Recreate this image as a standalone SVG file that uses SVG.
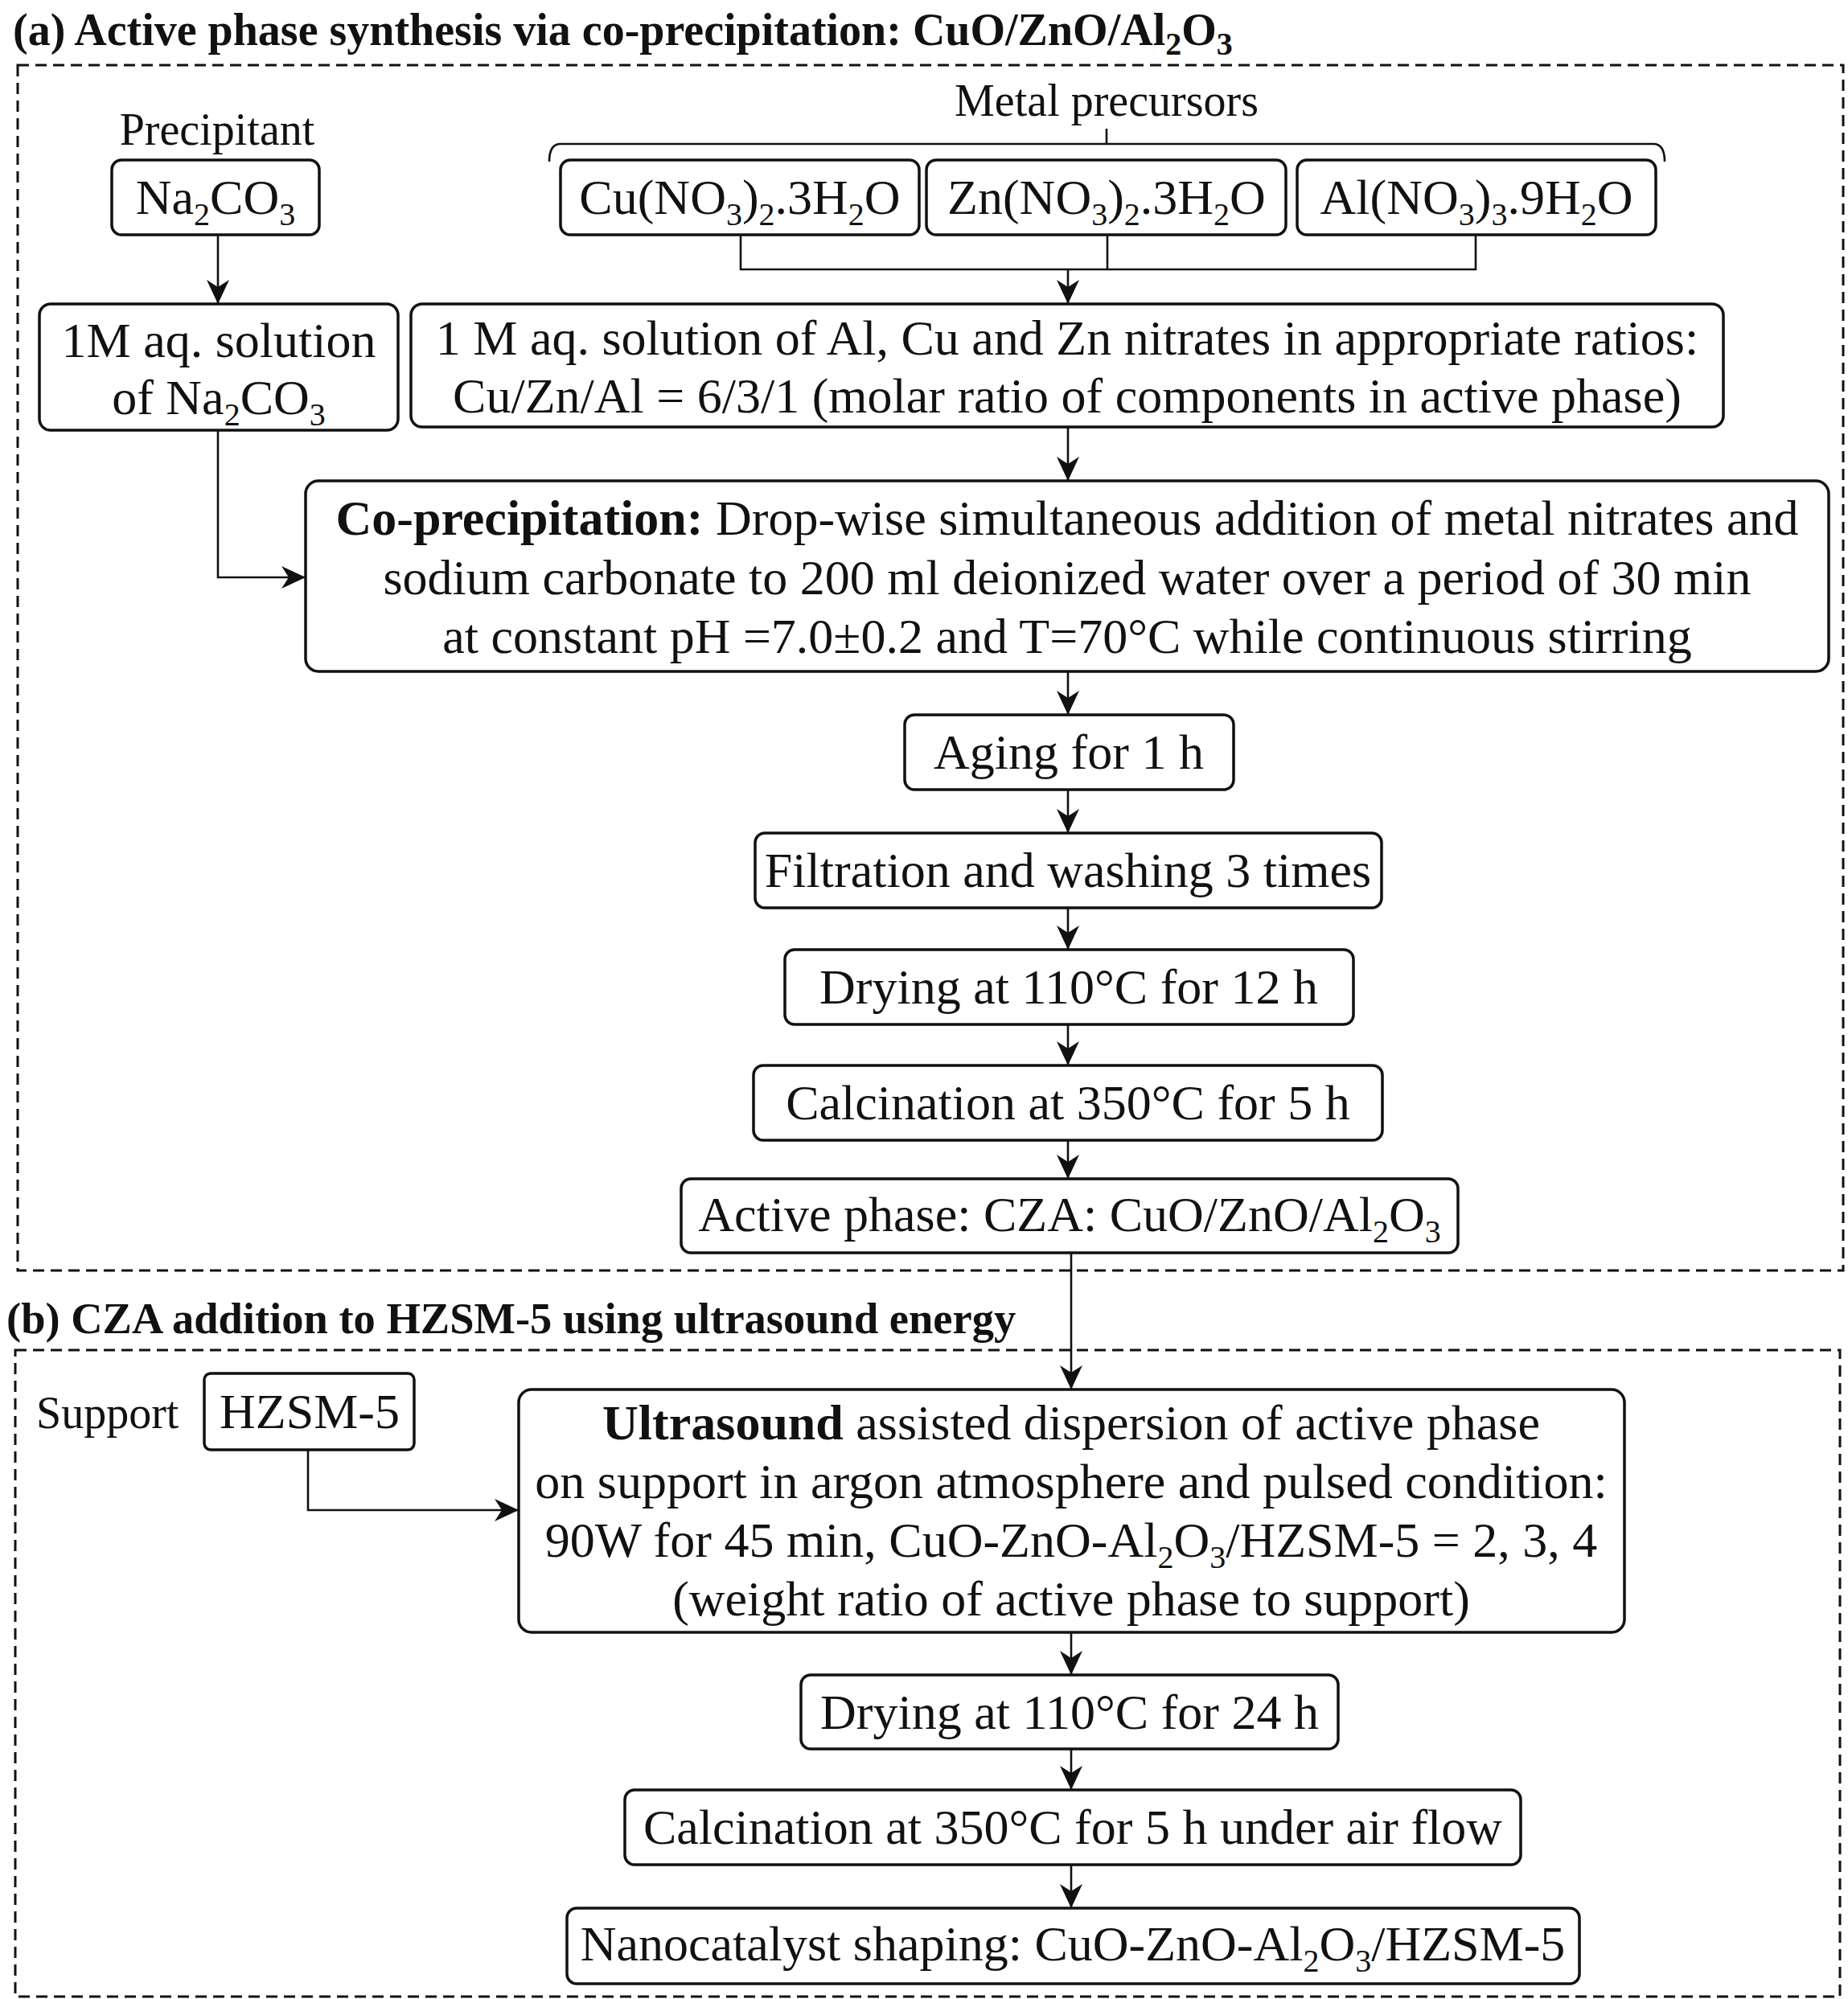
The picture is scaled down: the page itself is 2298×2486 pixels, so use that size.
<svg xmlns="http://www.w3.org/2000/svg" width="2298" height="2486" viewBox="0 0 2298 2486">
<defs>
<marker id="ah" viewBox="0 0 30 28" refX="30" refY="14" markerWidth="30" markerHeight="28" markerUnits="userSpaceOnUse" orient="auto">
<path d="M0,0 L30,14 L0,28 L9,14 Z" fill="#111"/>
</marker>
<style>
text{font-family:"Liberation Serif","Times New Roman",serif;fill:#111}
.t{font-size:62px;text-anchor:middle}
.lab{font-size:56px}
.ttl{font-weight:bold}
.box{fill:#fff;stroke:#111;stroke-width:3.5}
.dash{fill:none;stroke:#111;stroke-width:3;stroke-dasharray:14 8}
.ln{fill:none;stroke:#111;stroke-width:2.6}
.s{font-size:40px}
</style>
</defs>
<rect width="2298" height="2486" fill="#fff"/>

<g id="section-a">
<text class="ttl" x="16" y="56" font-size="56">(a) Active phase synthesis via co-precipitation: CuO/ZnO/Al<tspan class="s" dy="12">2</tspan><tspan dy="-12">O</tspan><tspan class="s" dy="12">3</tspan></text>
<rect class="dash" x="22" y="81" width="2270" height="1499"/>
</g>
<g id="section-b">
<text class="ttl" x="8" y="1658" font-size="54.5">(b) CZA addition to HZSM-5 using ultrasound energy</text>
<rect class="dash" x="19" y="1679" width="2269" height="804"/>
</g>

<g id="connectors">
<line class="ln" x1="271" y1="292" x2="271" y2="378" marker-end="url(#ah)"/>
<path class="ln" d="M683,201 Q683,179 697,179 L2056,179 Q2070,179 2070,201 M1376,179 L1376,160"/>
<path class="ln" d="M921,292 L921,335 L1835,335 L1835,292 M1377,292 L1377,335"/>
<line class="ln" x1="1328" y1="335" x2="1328" y2="378" marker-end="url(#ah)"/>
<path class="ln" d="M271,535 L271,718 L380,718" marker-end="url(#ah)"/>
<line class="ln" x1="1328" y1="531" x2="1328" y2="598" marker-end="url(#ah)"/>
<line class="ln" x1="1328" y1="835" x2="1328" y2="889" marker-end="url(#ah)"/>
<line class="ln" x1="1328" y1="982" x2="1328" y2="1036" marker-end="url(#ah)"/>
<line class="ln" x1="1328" y1="1129" x2="1328" y2="1181" marker-end="url(#ah)"/>
<line class="ln" x1="1328" y1="1274" x2="1328" y2="1325" marker-end="url(#ah)"/>
<line class="ln" x1="1328" y1="1418" x2="1328" y2="1466" marker-end="url(#ah)"/>
<line class="ln" x1="1332" y1="1558" x2="1332" y2="1728" marker-end="url(#ah)"/>
<path class="ln" d="M383,1803 L383,1878 L645,1878" marker-end="url(#ah)"/>
<line class="ln" x1="1332" y1="2030" x2="1332" y2="2083" marker-end="url(#ah)"/>
<line class="ln" x1="1332" y1="2175" x2="1332" y2="2226" marker-end="url(#ah)"/>
<line class="ln" x1="1332" y1="2319" x2="1332" y2="2373" marker-end="url(#ah)"/>
</g>

<g id="precipitant">
<text class="lab" x="270" y="180" text-anchor="middle">Precipitant</text>
<rect class="box" x="139" y="199" width="258" height="93" rx="12"/>
<text class="t" x="268" y="266">Na<tspan class="s" dy="14">2</tspan><tspan dy="-14">CO</tspan><tspan class="s" dy="14">3</tspan></text>
</g>

<g id="metal-precursors-label">
<text class="lab" x="1376" y="144" text-anchor="middle">Metal precursors</text>
</g>

<g id="cu-nitrate">
<rect class="box" x="697" y="199" width="446" height="93" rx="12"/>
<text class="t" x="920" y="266">Cu(NO<tspan class="s" dy="14">3</tspan><tspan dy="-14">)</tspan><tspan class="s" dy="14">2</tspan><tspan dy="-14">.3H</tspan><tspan class="s" dy="14">2</tspan><tspan dy="-14">O</tspan></text>
</g>
<g id="zn-nitrate">
<rect class="box" x="1152" y="199" width="447" height="93" rx="12"/>
<text class="t" x="1376" y="266">Zn(NO<tspan class="s" dy="14">3</tspan><tspan dy="-14">)</tspan><tspan class="s" dy="14">2</tspan><tspan dy="-14">.3H</tspan><tspan class="s" dy="14">2</tspan><tspan dy="-14">O</tspan></text>
</g>
<g id="al-nitrate">
<rect class="box" x="1613" y="199" width="446" height="93" rx="12"/>
<text class="t" x="1836" y="266">Al(NO<tspan class="s" dy="14">3</tspan><tspan dy="-14">)</tspan><tspan class="s" dy="14">3</tspan><tspan dy="-14">.9H</tspan><tspan class="s" dy="14">2</tspan><tspan dy="-14">O</tspan></text>
</g>

<g id="na2co3-solution">
<rect class="box" x="49" y="378" width="446" height="157" rx="14"/>
<text class="t" x="272" y="444">1M aq. solution</text>
<text class="t" x="272" y="515">of Na<tspan class="s" dy="14">2</tspan><tspan dy="-14">CO</tspan><tspan class="s" dy="14">3</tspan></text>
</g>

<g id="nitrate-solution">
<rect class="box" x="511" y="378" width="1632" height="153" rx="14"/>
<text class="t" x="1327" y="441">1 M aq. solution of Al, Cu and Zn nitrates in appropriate ratios:</text>
<text class="t" x="1327" y="513">Cu/Zn/Al = 6/3/1 (molar ratio of components in active phase)</text>
</g>

<g id="co-precipitation">
<rect class="box" x="380" y="598" width="1894" height="237" rx="16"/>
<text class="t" x="1327" y="665"><tspan font-weight="bold">Co-precipitation:</tspan> Drop-wise simultaneous addition of metal nitrates and</text>
<text class="t" x="1327" y="739">sodium carbonate to 200 ml deionized water over a period of 30 min</text>
<text class="t" x="1327" y="812">at constant pH =7.0±0.2 and T=70°C while continuous stirring</text>
</g>

<g id="aging">
<rect class="box" x="1125" y="889" width="409" height="93" rx="12"/>
<text class="t" x="1329" y="956">Aging for 1 h</text>
</g>
<g id="filtration">
<rect class="box" x="939" y="1036" width="779" height="93" rx="12"/>
<text class="t" x="1328" y="1103">Filtration and washing 3 times</text>
</g>
<g id="drying-a">
<rect class="box" x="976" y="1181" width="707" height="93" rx="12"/>
<text class="t" x="1329" y="1248">Drying at 110°C for 12 h</text>
</g>
<g id="calcination-a">
<rect class="box" x="937" y="1325" width="782" height="93" rx="12"/>
<text class="t" x="1328" y="1392">Calcination at 350°C for 5 h</text>
</g>
<g id="active-phase">
<rect class="box" x="847" y="1466" width="966" height="92" rx="12"/>
<text class="t" x="1330" y="1531">Active phase: CZA: CuO/ZnO/Al<tspan class="s" dy="14">2</tspan><tspan dy="-14">O</tspan><tspan class="s" dy="14">3</tspan></text>
</g>

<g id="hzsm5">
<text class="lab" x="45" y="1776">Support</text>
<rect class="box" x="254" y="1708" width="261" height="95" rx="8"/>
<text class="t" x="385" y="1776">HZSM-5</text>
</g>

<g id="ultrasound">
<rect class="box" x="645" y="1728" width="1375" height="302" rx="16"/>
<text class="t" x="1332" y="1790"><tspan font-weight="bold">Ultrasound</tspan> assisted dispersion of active phase</text>
<text class="t" x="1332" y="1863">on support in argon atmosphere and pulsed condition:</text>
<text class="t" x="1332" y="1936">90W for 45 min, CuO-ZnO-Al<tspan class="s" dy="14">2</tspan><tspan dy="-14">O</tspan><tspan class="s" dy="14">3</tspan><tspan dy="-14">/HZSM-5 = 2, 3, 4</tspan></text>
<text class="t" x="1332" y="2009">(weight ratio of active phase to support)</text>
</g>

<g id="drying-b">
<rect class="box" x="996" y="2083" width="668" height="92" rx="12"/>
<text class="t" x="1330" y="2150">Drying at 110°C for 24 h</text>
</g>
<g id="calcination-b">
<rect class="box" x="777" y="2226" width="1114" height="93" rx="12"/>
<text class="t" x="1334" y="2293">Calcination at 350°C for 5 h under air flow</text>
</g>
<g id="nanocatalyst">
<rect class="box" x="705" y="2373" width="1259" height="94" rx="12"/>
<text class="t" x="1334" y="2438">Nanocatalyst shaping: CuO-ZnO-Al<tspan class="s" dy="14">2</tspan><tspan dy="-14">O</tspan><tspan class="s" dy="14">3</tspan><tspan dy="-14">/HZSM-5</tspan></text>
</g>
</svg>
